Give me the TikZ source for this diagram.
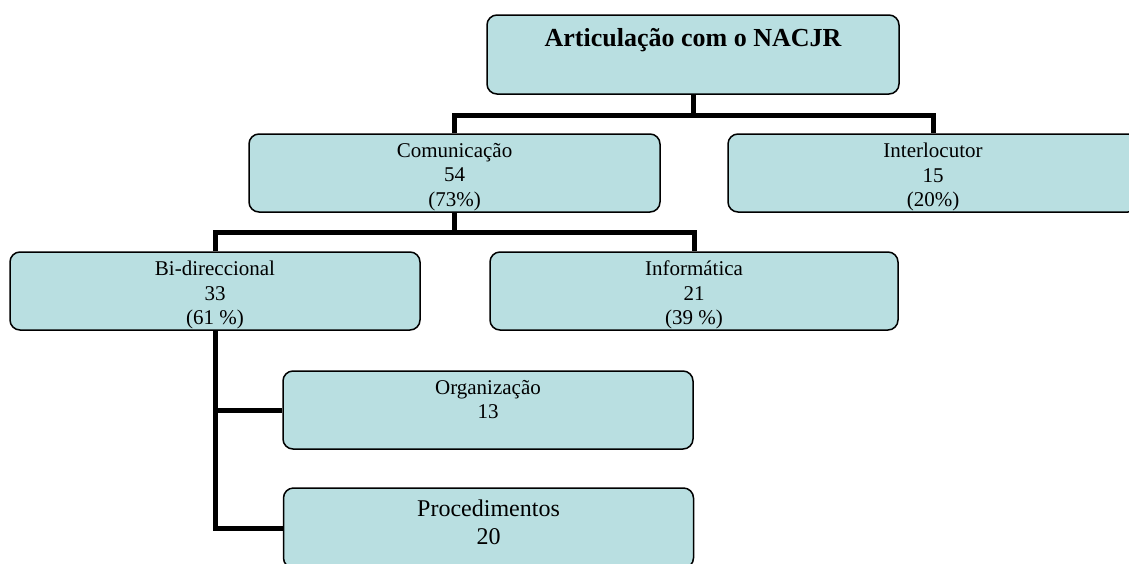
\documentclass[tikz,border=0pt]{standalone}
\usepackage{fontspec}
\setmainfont{Liberation Serif}
\usepackage{tikz}
\usetikzlibrary{
  positioning % for relative positioning of the texts
}
\definecolor{catfill}{RGB}{185,223,225}
\tikzset{
  cat/.style={ % style for each category box
    rectangle,draw,rounded corners=10pt, % drawn as a rounded rectangle
    line width=1.5pt, % thin black border
    fill=catfill, % light blue fill
    inner sep=0pt, % no padding, the size is fixed below
    minimum width=410pt,minimum height=78pt, % same size for every box
  },
  cattext/.style={ % style for the text inside the boxes
    anchor=north,inner sep=0pt, % hang the text from the top of the box
    align=center, % centred lines
    font=\fontsize{21}{24.5}\selectfont,
    execute at begin node=\strut, % fixed height for the first line
  },
  conn/.style={ % style for the connections
    line width=5pt, % thick black bars
  },
}
\begin{document}
\begin{tikzpicture}[x=1pt,y=-1pt]
  \useasboundingbox (0,0) rectangle (1129,563);
  % boxes
  \node[cat, minimum width=412pt, minimum height=79pt] (artic) at (693,54.5) {};
  \node[cat, minimum width=411pt] (com) at (454.5,173) {};
  \node[cat] (inter) at (933,173) {};
  \node[cat] (bidir) at (215,291) {};
  \node[cat, minimum width=408pt] (info) at (694,291) {};
  \node[cat] (org) at (488,410) {};
  \node[cat, minimum height=80pt] (proc) at (488.5,528) {};
  % texts
  \node[cattext, below=10pt of artic.north, font=\fontsize{26}{31}\selectfont\bfseries] (artic-t) {Articulação com o NACJR};
  \node[cattext, below=9.5pt of com.north] (com-t) {Comunicação\\54\\(73\%)};
  \node[cattext, below=9.5pt of inter.north] (inter-t) {Interlocutor\\15\\(20\%)};
  \node[cattext, below=9.5pt of bidir.north] (bidir-t) {Bi-direccional\\33\\(61 \%)};
  \node[cattext, below=9.5pt of info.north] (info-t) {Informática\\21\\(39 \%)};
  \node[cattext, below=9.5pt of org.north] (org-t) {Organização\\13};
  \node[cattext, below=12pt of proc.north, font=\fontsize{24}{28}\selectfont] (proc-t) {Procedimentos\\20};
  % connections
  \draw[conn] (artic.south) -- ++(0,20.5) -| (com.north);
  \draw[conn] (artic.south) -- ++(0,20.5) -| (inter.north);
  \draw[conn] (com.south) -- ++(0,20) -| (bidir.north);
  \draw[conn] (com.south) -- ++(0,20) -| (info.north);
  \draw[conn] (bidir.south) |- (org.west);
  \draw[conn] (bidir.south) |- (proc.west);
\end{tikzpicture}
\end{document}
